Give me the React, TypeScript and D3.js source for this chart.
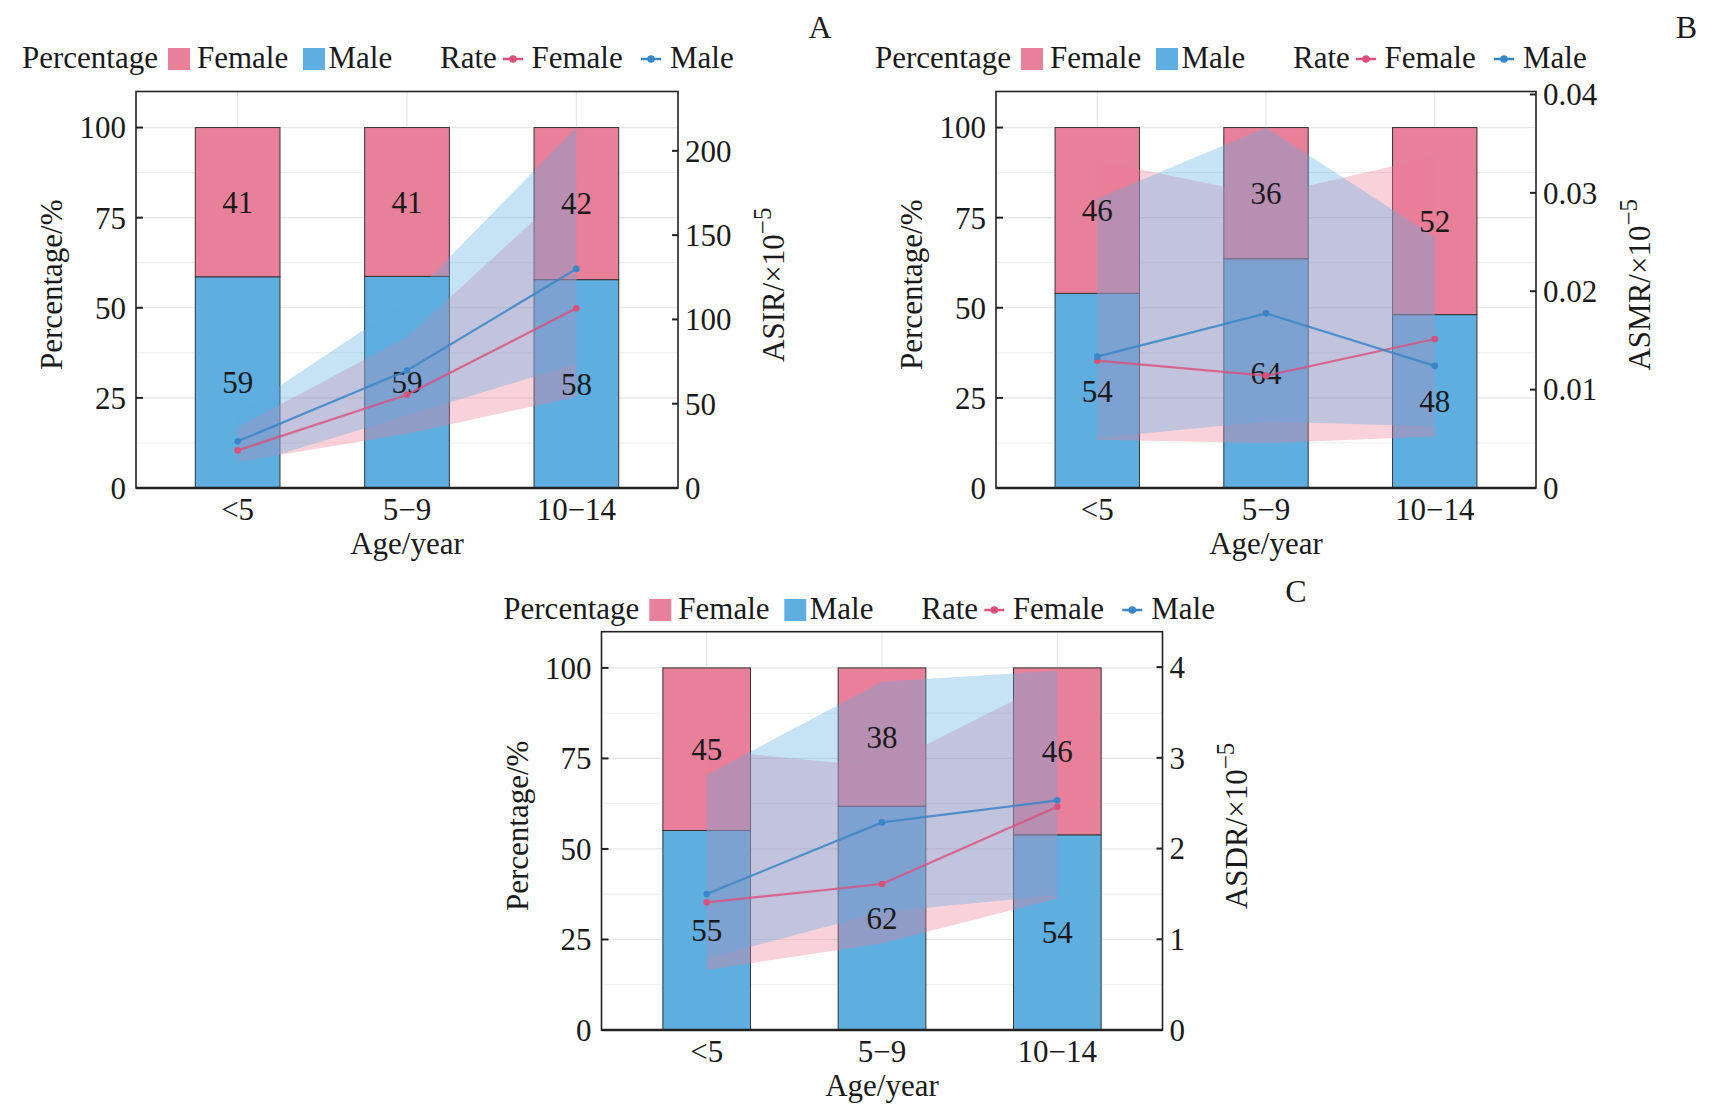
import React from "react"
import * as d3 from "d3"

// age groups shared by all three panels
const ageGroups = ["<5", "5\u22129", "10\u221214"]

// A: incidence
const incMalePct = [58.6, 58.7, 57.8]
const incFemalePct = [41.4, 41.3, 42.2]
const asirFemale = [22.3, 55.3, 106.6]
const asirFemaleLow = [15.4, 32.2, 54]
const asirFemaleUp = [36.1, 89.5, 182]
const asirMale = [27.7, 69.7, 130]
const asirMaleLow = [12.4, 43, 73.7]
const asirMaleUp = [44, 111, 213.9]
const asirTicks = [0, 50, 100, 150, 200]

// B: mortality
const mortMalePct = [54.0, 63.6, 48.1]
const mortFemalePct = [46.0, 36.4, 51.9]
const asmrFemale = [0.01294, 0.01142, 0.01514]
const asmrFemaleLow = [0.0049, 0.00457, 0.00524]
const asmrFemaleUp = [0.03328, 0.02974, 0.03369]
const asmrMale = [0.01335, 0.01775, 0.01241]
const asmrMaleLow = [0.00508, 0.00676, 0.00625]
const asmrMaleUp = [0.0294, 0.03663, 0.0255]
const asmrTicks = [0, 0.01, 0.02, 0.03, 0.04]

// C: DALYs
const dalyMalePct = [55.1, 61.8, 53.9]
const dalyFemalePct = [44.9, 38.2, 46.1]
const asdrFemale = [1.407, 1.609, 2.461]
const asdrFemaleLow = [0.661, 0.955, 1.45]
const asdrFemaleUp = [3.085, 2.9, 3.875]
const asdrMale = [1.499, 2.288, 2.531]
const asdrMaleLow = [0.79, 1.3, 1.487]
const asdrMaleUp = [2.81, 3.838, 3.96]
const asdrTicks = [0, 1, 2, 3, 4]

const pctTicks = [0, 25, 50, 75, 100]
const pctMinor = [12.5, 37.5, 62.5, 87.5]

const FEMALE = "#E8809A"
const MALE = "#5FAEE0"
const FEMALE_RIB = "#EE7A96"
const MALE_RIB = "#5DADE2"
const FEMALE_LINE = "#D9507A"
const MALE_LINE = "#3A86C8"
const FONT = "Liberation Serif, Times New Roman, Times, serif"
const FS = 31
const txt = { fontFamily: FONT, fontSize: FS, fill: "#1a1a1a" } as React.CSSProperties

const panels = [
  {
    letter: "A", rateLabel: "ASIR", left: 136, right: 678, top: 91.5, bottom: 488,
    legendX: 22, legendY: 59, letterX: 820, letterY: 37.5, rTitleOff: 106, rMax: 235.2,
    malePct: incMalePct, femalePct: incFemalePct,
    fRate: asirFemale, fLow: asirFemaleLow, fUp: asirFemaleUp,
    mRate: asirMale, mLow: asirMaleLow, mUp: asirMaleUp,
    rTicks: asirTicks, fmt: (v: number) => String(v),
  },
  {
    letter: "B", rateLabel: "ASMR", left: 996, right: 1536, top: 91.5, bottom: 488,
    legendX: 875, legendY: 59, letterX: 1686.5, letterY: 37.5, rTitleOff: 114, rMax: 0.0403,
    malePct: mortMalePct, femalePct: mortFemalePct,
    fRate: asmrFemale, fLow: asmrFemaleLow, fUp: asmrFemaleUp,
    mRate: asmrMale, mLow: asmrMaleLow, mUp: asmrMaleUp,
    rTicks: asmrTicks, fmt: (v: number) => (v === 0 ? "0" : d3.format(".2f")(v)),
  },
  {
    letter: "C", rateLabel: "ASDR", left: 601.5, right: 1162.5, top: 631.7, bottom: 1030,
    legendX: 503.3, legendY: 610, letterX: 1296, letterY: 601.7, rTitleOff: 84, rMax: 4.39,
    malePct: dalyMalePct, femalePct: dalyFemalePct,
    fRate: asdrFemale, fLow: asdrFemaleLow, fUp: asdrFemaleUp,
    mRate: asdrMale, mLow: asdrMaleLow, mUp: asdrMaleUp,
    rTicks: asdrTicks, fmt: (v: number) => String(v),
  },
]

type PanelCfg = (typeof panels)[number]

function Legend({ x0, cy }: { x0: number; cy: number }) {
  const ty = cy + 9
  const lineKey = (x: number, color: string) => (
    <g>
      <line x1={x} x2={x + 20} y1={cy} y2={cy} stroke={color} strokeWidth={2.5} />
      <circle cx={x + 10} cy={cy} r={3.8} fill={color} />
    </g>
  )
  return (
    <g style={txt}>
      <text x={x0} y={ty}>Percentage</text>
      <rect x={x0 + 146} y={cy - 11} width={22} height={22} fill={FEMALE} />
      <text x={x0 + 175} y={ty}>Female</text>
      <rect x={x0 + 281} y={cy - 11} width={22} height={22} fill={MALE} />
      <text x={x0 + 306.5} y={ty}>Male</text>
      <text x={x0 + 418} y={ty}>Rate</text>
      {lineKey(x0 + 481, FEMALE_LINE)}
      <text x={x0 + 509.5} y={ty}>Female</text>
      {lineKey(x0 + 619, MALE_LINE)}
      <text x={x0 + 648} y={ty}>Male</text>
    </g>
  )
}

function Panel({ p }: { p: PanelCfg }) {
  const x = d3.scaleBand<string>().domain(ageGroups).range([p.left, p.right]).paddingInner(0.5).paddingOuter(0.35)
  const cx = (i: number) => (x(ageGroups[i]) || 0) + x.bandwidth() / 2
  const yPct = d3.scaleLinear().domain([0, 110]).range([p.bottom, p.top])
  const yRate = d3.scaleLinear().domain([0, p.rMax]).range([p.bottom, p.top])

  const idx = ageGroups.map((_, i) => i)
  const area = (low: number[], up: number[]) =>
    d3.area<number>().x((i) => cx(i)).y0((i) => yRate(low[i])).y1((i) => yRate(up[i]))(idx) || ""
  const line = (vals: number[]) => d3.line<number>().x((i) => cx(i)).y((i) => yRate(vals[i]))(idx) || ""

  const midY = (p.top + p.bottom) / 2 - 5
  const midX = (p.left + p.right) / 2

  return (
    <g>
      {/* grid */}
      {pctMinor.map((t) => (
        <line key={"mn" + t} x1={p.left} x2={p.right} y1={yPct(t)} y2={yPct(t)} stroke="#EEEEEE" strokeWidth={1} />
      ))}
      {pctTicks.map((t) => (
        <line key={"mj" + t} x1={p.left} x2={p.right} y1={yPct(t)} y2={yPct(t)} stroke="#E6E6E6" strokeWidth={1.2} />
      ))}
      {idx.map((i) => (
        <line key={"v" + i} x1={cx(i)} x2={cx(i)} y1={p.top} y2={p.bottom} stroke="#E6E6E6" strokeWidth={1.2} />
      ))}

      {/* stacked bars */}
      {idx.map((i) => (
        <g key={"b" + i}>
          <rect x={x(ageGroups[i])} width={x.bandwidth()} y={yPct(p.malePct[i])} height={yPct(0) - yPct(p.malePct[i])}
            fill={MALE} stroke="#333" strokeWidth={1} />
          <rect x={x(ageGroups[i])} width={x.bandwidth()} y={yPct(100)} height={yPct(p.malePct[i]) - yPct(100)}
            fill={FEMALE} stroke="#333" strokeWidth={1} />
        </g>
      ))}

      {/* uncertainty ribbons */}
      <path d={area(p.fLow, p.fUp)} fill={FEMALE_RIB} fillOpacity={0.35} />
      <path d={area(p.mLow, p.mUp)} fill={MALE_RIB} fillOpacity={0.35} />

      {/* bar labels */}
      <g style={txt} textAnchor="middle">
        {idx.map((i) => (
          <g key={"t" + i}>
            <text x={cx(i)} y={yPct(p.malePct[i] / 2)} dy="0.35em">{Math.round(p.malePct[i])}</text>
            <text x={cx(i)} y={yPct(p.malePct[i] + p.femalePct[i] / 2)} dy="0.35em">{Math.round(p.femalePct[i])}</text>
          </g>
        ))}
      </g>

      {/* rate lines */}
      <path d={line(p.fRate)} fill="none" stroke={FEMALE_LINE} strokeWidth={2.2} strokeOpacity={0.8} />
      <path d={line(p.mRate)} fill="none" stroke={MALE_LINE} strokeWidth={2.2} strokeOpacity={0.85} />
      {idx.map((i) => (
        <g key={"pt" + i}>
          <circle cx={cx(i)} cy={yRate(p.fRate[i])} r={3.3} fill={FEMALE_LINE} />
          <circle cx={cx(i)} cy={yRate(p.mRate[i])} r={3.3} fill={MALE_LINE} />
        </g>
      ))}

      {/* frame */}
      <rect x={p.left} y={p.top} width={p.right - p.left} height={p.bottom - p.top} fill="none" stroke="#222" strokeWidth={1.6} />
      <line x1={p.left} x2={p.right} y1={p.bottom} y2={p.bottom} stroke="#222" strokeWidth={2.4} />

      {/* left axis */}
      {pctTicks.map((t) => (
        <g key={"lt" + t}>
          <line x1={p.left} x2={p.left + 7} y1={yPct(t)} y2={yPct(t)} stroke="#222" strokeWidth={2} />
          <text x={p.left - 10} y={yPct(t)} dy="0.35em" textAnchor="end" style={txt}>{t}</text>
        </g>
      ))}
      {/* right axis */}
      {p.rTicks.map((t) => (
        <g key={"rt" + t}>
          <line x1={p.right - 6} x2={p.right} y1={yRate(t)} y2={yRate(t)} stroke="#222" strokeWidth={2} />
          <text x={p.right + 7} y={yRate(t)} dy="0.35em" style={txt}>{p.fmt(t)}</text>
        </g>
      ))}
      {/* bottom axis */}
      {idx.map((i) => (
        <text key={"bt" + i} x={cx(i)} y={p.bottom + 32} textAnchor="middle" style={txt}>{ageGroups[i]}</text>
      ))}

      {/* titles */}
      <text x={midX} y={p.bottom + 66} textAnchor="middle" style={txt}>Age/year</text>
      <text transform={`translate(${p.left - 74},${midY}) rotate(-90)`} textAnchor="middle" style={txt}>
        Percentage/%
      </text>
      <text transform={`translate(${p.right + p.rTitleOff},${midY}) rotate(-90)`} textAnchor="middle" style={txt}>
        {p.rateLabel}/×10<tspan style={{ fontSize: 25 }} dy={-13}>−5</tspan>
      </text>

      <Legend x0={p.legendX} cy={p.legendY} />
      <text x={p.letterX} y={p.letterY} textAnchor="middle" style={{ ...txt, fontSize: 32 }}>{p.letter}</text>
    </g>
  )
}

export default function App() {
  return (
    <svg width={1713} height={1111} style={{ position: "absolute", left: 0, top: 0, background: "#fff" }}>
      <rect width={1713} height={1111} fill="#fff" />
      {panels.map((p) => (
        <Panel key={p.letter} p={p} />
      ))}
    </svg>
  )
}
